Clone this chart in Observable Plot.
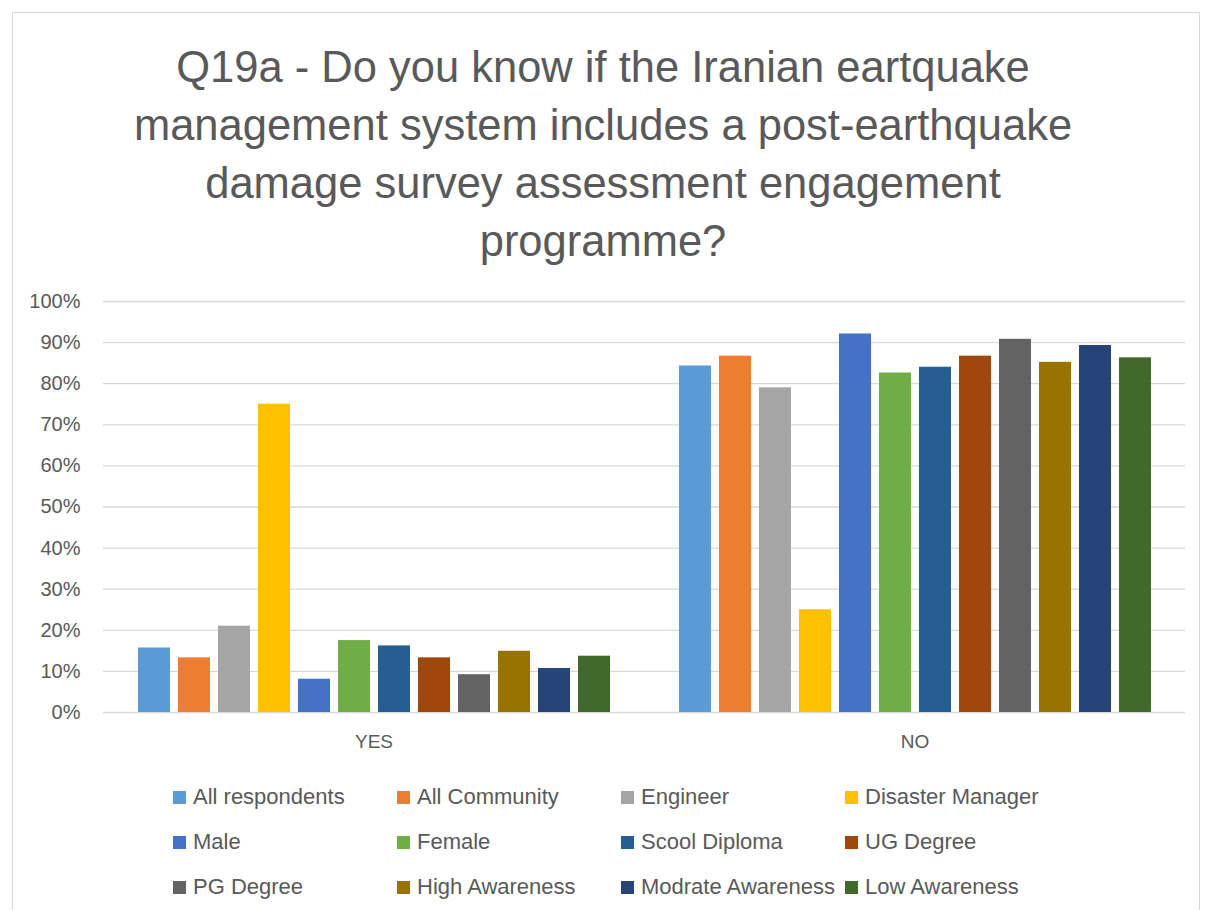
<!DOCTYPE html>
<html>
<head>
<meta charset="utf-8">
<script src="https://cdn.jsdelivr.net/npm/d3@7"></script>
<script src="https://cdn.jsdelivr.net/npm/@observablehq/plot@0.6"></script>
<style>
  html, body { margin: 0; padding: 0; background: #fff; }
  body { width: 1206px; height: 910px; position: relative; overflow: hidden; font-family: "Liberation Sans", Arial, sans-serif; color: #595959; }
  #frame { position: absolute; left: 12px; top: 12px; width: 1188px; height: 920px; border: 1px solid #d9d9d9; box-sizing: border-box; }
  #title { position: absolute; left: 0; top: 38px; width: 1206px; text-align: center; font-size: 43.5px; line-height: 58px; color: #595959; }
  #chart { position: absolute; left: 0; top: 280px; }
  #legend { position: absolute; left: 173px; top: 784px; display: grid; grid-template-columns: 224px 224px 224px 224px; grid-auto-rows: 45px; font-size: 22px; color: #595959; }
  .item { display: flex; align-items: flex-start; white-space: nowrap; line-height: 26px; }
  .sw { width: 13px; height: 13px; margin-right: 7px; margin-top: 7px; flex: none; }
</style>
</head>
<body>
<div id="frame"></div>
<div id="title">Q19a - Do you know if the Iranian eartquake<br>management system includes a post-earthquake<br>damage survey assessment engagement<br>programme?</div>
<div id="chart"></div>
<div id="legend"></div>
<script>
const categories = ["YES", "NO"];
const series = ["All respondents", "All Community", "Engineer", "Disaster Manager", "Male", "Female", "Scool Diploma", "UG Degree", "PG Degree", "High Awareness", "Modrate Awareness", "Low Awareness"];
const yesValues = [0.157, 0.133, 0.210, 0.750, 0.081, 0.175, 0.162, 0.133, 0.092, 0.149, 0.107, 0.137];
const noValues  = [0.843, 0.867, 0.790, 0.250, 0.921, 0.826, 0.840, 0.867, 0.908, 0.852, 0.893, 0.863];
const colors = ["#5B9BD5", "#ED7D31", "#A5A5A5", "#FFC000", "#4472C4", "#70AD47", "#255E91", "#9E480E", "#636363", "#997300", "#264478", "#43682B"];
const yTicks = [0, 0.1, 0.2, 0.3, 0.4, 0.5, 0.6, 0.7, 0.8, 0.9, 1.0];

const data = [];
series.forEach((s, i) => {
  data.push({cat: "YES", series: s, value: yesValues[i]});
  data.push({cat: "NO", series: s, value: noValues[i]});
});

const chart = Plot.plot({
  width: 1206,
  height: 489,
  marginLeft: 103,
  marginRight: 21,
  marginTop: 21,
  marginBottom: 57,
  style: {fontFamily: "'Liberation Sans', Arial, sans-serif", fontSize: "19px", color: "#595959", background: "transparent"},
  fx: {domain: categories, padding: 0, label: null, axis: "bottom", tickSize: 0, tickPadding: 22},
  x: {domain: series, axis: null, paddingInner: 0.2, paddingOuter: 0.1, insetLeft: 30.5, insetRight: 30.5},
  y: {domain: [0, 1], ticks: yTicks, tickFormat: d3.format(".0%"), tickSize: 0, tickPadding: 23, label: null},
  color: {domain: series, range: colors},
  marks: [
    Plot.ruleY(yTicks, {stroke: "#d9d9d9", strokeWidth: 1.3}),
    Plot.barY(data, {fx: "cat", x: "series", y: "value", fill: "series"})
  ]
});
chart.querySelectorAll('[aria-label^="y-axis"], [aria-label^="y-axis"] text').forEach(g => g.setAttribute("font-size", "20"));
chart.querySelectorAll('[aria-label^="fx-axis"], [aria-label^="fx-axis"] text').forEach(g => g.setAttribute("font-size", "19"));
document.getElementById("chart").appendChild(chart);

const legend = document.getElementById("legend");
series.forEach((s, i) => {
  const it = document.createElement("div");
  it.className = "item";
  const sw = document.createElement("span");
  sw.className = "sw";
  sw.style.background = colors[i];
  const t = document.createElement("span");
  t.textContent = s;
  it.appendChild(sw);
  it.appendChild(t);
  legend.appendChild(it);
});
</script>
</body>
</html>
